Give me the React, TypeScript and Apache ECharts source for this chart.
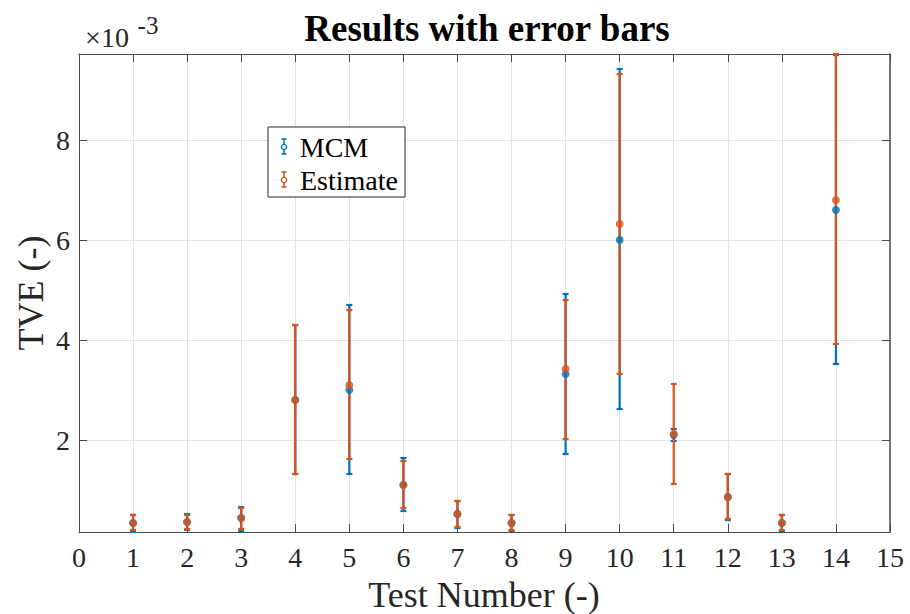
import React, { useEffect, useRef } from "react";
import * as echarts from "echarts";

// values in units of 1e-3
const tests = [1, 2, 3, 4, 5, 6, 7, 8, 9, 10, 11, 12, 13, 14];
const mcmVal = [0.34, 0.36, 0.44, 2.8, 3.0, 1.1, 0.52, 0.34, 3.32, 6.0, 2.1, 0.86, 0.34, 6.6];
const mcmLow = [0.16, 0.2, 0.18, 1.32, 1.32, 0.58, 0.24, 0.18, 1.72, 2.62, 1.98, 0.4, 0.18, 3.52];
const mcmHigh = [0.5, 0.52, 0.66, 4.3, 4.7, 1.64, 0.78, 0.5, 4.92, 9.42, 2.22, 1.32, 0.5, 9.7];
const estVal = [0.34, 0.36, 0.44, 2.8, 3.1, 1.1, 0.52, 0.34, 3.42, 6.32, 2.12, 0.86, 0.34, 6.8];
const estLow = [0.2, 0.22, 0.22, 1.32, 1.62, 0.64, 0.26, 0.2, 2.02, 3.32, 1.12, 0.42, 0.2, 3.92];
const estHigh = [0.5, 0.5, 0.64, 4.3, 4.6, 1.58, 0.78, 0.5, 4.8, 9.32, 3.12, 1.32, 0.5, 9.72];
const yTicks = [2, 4, 6, 8];

const BLUE = "#0072BD";
const ORANGE = "#D95319";
const FONT = "Liberation Serif";
const AX = "#4a4a4a";

function errSeries(name: string, color: string, lo: number[], hi: number[]) {
  return {
    type: "custom",
    name,
    data: tests.map((t, i) => [t, lo[i], hi[i]]),
    encode: { x: 0, y: [1, 2] },
    renderItem: (_p: any, api: any) => {
      const x = api.value(0);
      const a = api.coord([x, api.value(2)]);
      const b = api.coord([x, api.value(1)]);
      const w = 3;
      const st = { stroke: color, lineWidth: 2.2 };
      return {
        type: "group",
        children: [
          { type: "line", shape: { x1: a[0], y1: a[1], x2: b[0], y2: b[1] }, style: st },
          { type: "line", shape: { x1: a[0] - w, y1: a[1], x2: a[0] + w, y2: a[1] }, style: st },
          { type: "line", shape: { x1: b[0] - w, y1: b[1], x2: b[0] + w, y2: b[1] }, style: st },
        ],
      };
    },
  };
}

function dotSeries(name: string, color: string, v: number[]) {
  return {
    type: "scatter",
    name,
    data: tests.map((t, i) => [t, v[i]]),
    symbol: "circle",
    symbolSize: 8,
    itemStyle: { color },
  };
}

function txt(
  text: string,
  x: number,
  y: number,
  size: number,
  opts: { bold?: boolean; fill?: string; rotation?: number } = {}
) {
  return {
    type: "text",
    x,
    y,
    z: 20,
    rotation: opts.rotation || 0,
    style: {
      text,
      fontSize: size,
      fontFamily: FONT,
      fontWeight: opts.bold ? "bold" : "normal",
      fill: opts.fill || "#262626",
      textAlign: "center",
      textVerticalAlign: "middle",
    },
  };
}

function legendItem(y: number, color: string, label: string, cx: number) {
  const x = 284;
  const st = { stroke: color, lineWidth: 1.6 };
  return [
    { type: "line", z: 20, shape: { x1: x, y1: y - 8, x2: x, y2: y + 7 }, style: st },
    { type: "line", z: 20, shape: { x1: x - 2.5, y1: y - 8, x2: x + 2.5, y2: y - 8 }, style: st },
    { type: "line", z: 20, shape: { x1: x - 2.5, y1: y + 7, x2: x + 2.5, y2: y + 7 }, style: st },
    { type: "circle", z: 21, shape: { cx: x, cy: y, r: 2.6 }, style: { fill: "#fff", stroke: color, lineWidth: 1.4 } },
    txt(label, cx, y, 28, { fill: "#000" }),
  ];
}

export default function App() {
  const ref = useRef<HTMLDivElement>(null);
  useEffect(() => {
    if (!ref.current) return;
    const chart = echarts.init(ref.current, undefined, { renderer: "svg" });
    const tickCommon = { inside: true, length: 8, lineStyle: { color: AX, width: 1 } };
    chart.setOption({
      animation: false,
      backgroundColor: "#fff",
      grid: { left: 79, right: 20, top: 54, bottom: 82 },
      xAxis: [
        {
          type: "value",
          min: 0,
          max: 15,
          interval: 1,
          axisLine: { show: true, lineStyle: { color: AX, width: 1 } },
          axisTick: tickCommon,
          axisLabel: { color: "#262626", fontSize: 28, fontFamily: FONT, margin: 11 },
          splitLine: { show: true, lineStyle: { color: "#e3e3e3", width: 1 } },
        },
        {
          type: "value",
          position: "top",
          min: 0,
          max: 15,
          interval: 1,
          axisLine: { show: true, onZero: false, lineStyle: { color: AX, width: 1 } },
          axisTick: tickCommon,
          axisLabel: { show: false },
          splitLine: { show: false },
        },
      ],
      yAxis: [
        {
          type: "value",
          min: 0.16,
          max: 9.72,
          axisLine: { show: true, onZero: false, lineStyle: { color: AX, width: 1 } },
          axisTick: { ...tickCommon, customValues: yTicks },
          axisLabel: { color: "#262626", fontSize: 28, fontFamily: FONT, margin: 9, customValues: yTicks },
          splitLine: { show: true, lineStyle: { color: "#e3e3e3", width: 1 } },
        },
        {
          type: "value",
          position: "right",
          min: 0.16,
          max: 9.72,
          axisLine: { show: true, onZero: false, lineStyle: { color: AX, width: 1.5 } },
          axisTick: { ...tickCommon, customValues: yTicks },
          axisLabel: { show: false, customValues: yTicks },
          splitLine: { show: false },
        },
      ],
      series: [
        errSeries("MCM", BLUE, mcmLow, mcmHigh),
        dotSeries("MCM", BLUE, mcmVal),
        errSeries("Estimate", ORANGE, estLow, estHigh),
        dotSeries("Estimate", ORANGE, estVal),
      ],
      graphic: [
        txt("Results with error bars", 487, 28, 37, { bold: true, fill: "#000" }),
        txt("×10", 107, 37, 28),
        txt("-3", 148, 25, 25),
        txt("Test Number (-)", 484, 595, 36),
        txt("TVE (-)", 31, 293, 36, { rotation: Math.PI / 2 }),
        {
          type: "rect",
          z: 15,
          shape: { x: 268, y: 127, width: 137, height: 70 },
          style: { fill: "#fff", stroke: "#262626", lineWidth: 1 },
        },
        ...legendItem(147, BLUE, "MCM", 334),
        ...legendItem(180, ORANGE, "Estimate", 349),
      ],
    });
    return () => chart.dispose();
  }, []);
  return <div ref={ref} style={{ width: 910, height: 614, position: "absolute", left: 0, top: 0 }} />;
}
